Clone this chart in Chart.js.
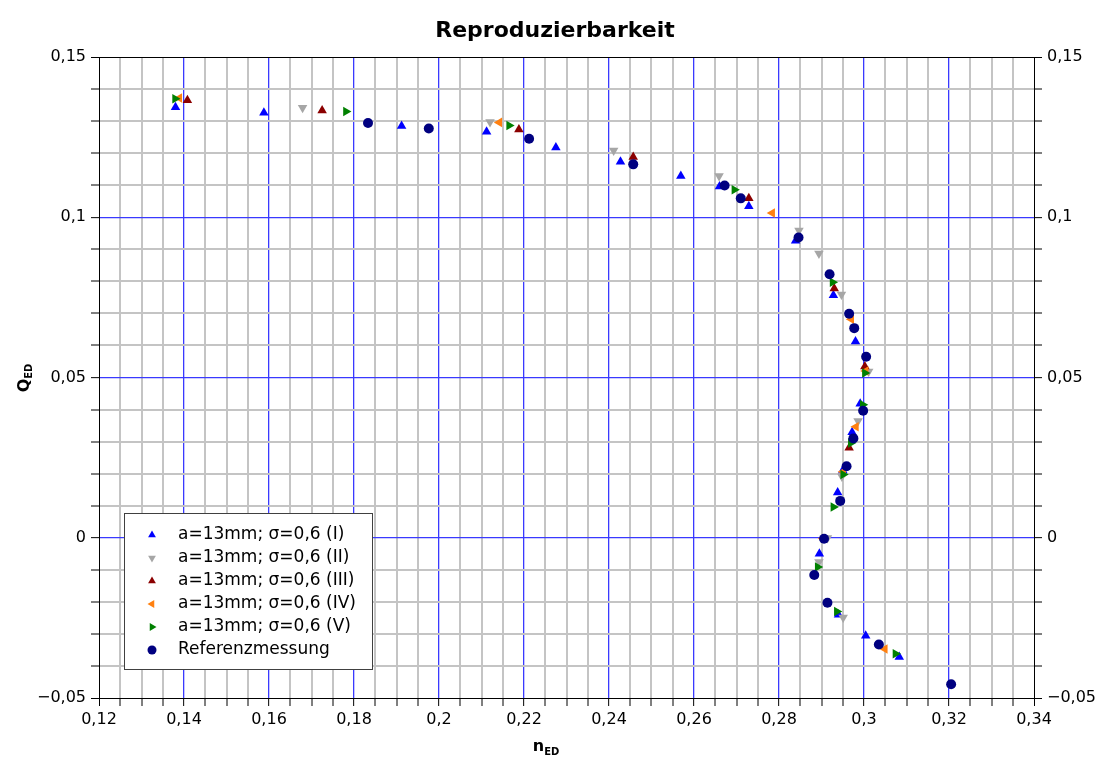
<!DOCTYPE html>
<html>
<head>
<meta charset="utf-8">
<title>Reproduzierbarkeit</title>
<script src="https://cdn.jsdelivr.net/npm/chart.js@4.4.0/dist/chart.umd.min.js"></script>
<style>
  html, body { margin: 0; padding: 0; background: #fff; }
</style>
</head>
<body>
<canvas id="chart" width="1102" height="760"></canvas>
<script>
// values (n_ED, Q_ED)
const nedI   = [0.1380, 0.1588, 0.1912, 0.2112, 0.2275, 0.2427, 0.2569, 0.2660, 0.2729, 0.2839, 0.2928, 0.2980, 0.2991, 0.2972, 0.2950, 0.2938, 0.2895, 0.2940, 0.3004, 0.3083];
const qedI   = [0.1343, 0.1326, 0.1285, 0.1267, 0.1218, 0.1173, 0.1129, 0.1096, 0.1034, 0.0927, 0.0757, 0.0612, 0.0418, 0.0329, 0.0210, 0.0141, -0.0050, -0.0240, -0.0306, -0.0372];

const nedII  = [0.1679, 0.2120, 0.2411, 0.2659, 0.2847, 0.2894, 0.2947, 0.3011, 0.2986, 0.2948, 0.2914, 0.2894, 0.2951];
const qedII  = [0.1342, 0.1297, 0.1208, 0.1129, 0.0959, 0.0887, 0.0759, 0.0519, 0.0364, 0.0191, -0.0001, -0.0076, -0.0249];

const nedIII = [0.1408, 0.1725, 0.2188, 0.2457, 0.2729, 0.2930, 0.3002, 0.2965];
const qedIII = [0.1365, 0.1333, 0.1274, 0.1188, 0.1059, 0.0778, 0.0534, 0.0281];

const nedIV  = [0.1389, 0.2142, 0.2784, 0.2970, 0.3004, 0.2981, 0.2951, 0.2904, 0.3049];
const qedIV  = [0.1372, 0.1296, 0.1013, 0.0682, 0.0520, 0.0346, 0.0206, -0.0002, -0.0347];

const nedV   = [0.1379, 0.1781, 0.2165, 0.2695, 0.2926, 0.3002, 0.2997, 0.2969, 0.2951, 0.2928, 0.2891, 0.2936, 0.3074];
const qedV   = [0.1370, 0.1330, 0.1286, 0.1086, 0.0797, 0.0514, 0.0415, 0.0296, 0.0197, 0.0096, -0.0091, -0.0230, -0.0362];

const nedRef = [0.1833, 0.1976, 0.2212, 0.2457, 0.2672, 0.2710, 0.2846, 0.2919, 0.2965, 0.2977, 0.3005, 0.2998, 0.2975, 0.2959, 0.2944, 0.2906, 0.2883, 0.2914, 0.3035, 0.3205];
const qedRef = [0.1294, 0.1277, 0.1245, 0.1165, 0.1099, 0.1059, 0.0937, 0.0822, 0.0699, 0.0654, 0.0565, 0.0396, 0.0310, 0.0223, 0.0115, -0.0003, -0.0116, -0.0203, -0.0333, -0.0457];

const seriesLabels = ['a=13mm; σ=0,6 (I)', 'a=13mm; σ=0,6 (II)', 'a=13mm; σ=0,6 (III)', 'a=13mm; σ=0,6 (IV)', 'a=13mm; σ=0,6 (V)', 'Referenzmessung'];

// axis ranges / tick steps
const xRange = [0.12, 0.34];
const yRange = [-0.05, 0.15];
const xMajor = 0.02, xMinor = 0.005;
const yMajor = 0.05, yMinor = 0.01;

const FONT = "'DejaVu Sans', Verdana, sans-serif";

const pts = (xs, ys) => xs.map((x, i) => ({ x: x, y: ys[i] }));
const isMult = (v, s) => Math.abs(v / s - Math.round(v / s)) < 1e-6;
const fmt = v => {
    const r = Math.round(v * 1000) / 1000;
    return (r < 0 ? '\u2212' : '') + String(Math.abs(r)).replace('.', ',');
};

const styles = [
    { color: '#0000ff', shape: 'triangle', rot: 0 },
    { color: '#a6a6a6', shape: 'triangle', rot: 180 },
    { color: '#8b0000', shape: 'triangle', rot: 0 },
    { color: '#ff8010', shape: 'triangle', rot: 270 },
    { color: '#008000', shape: 'triangle', rot: 90 },
    { color: '#000080', shape: 'circle', rot: 0 }
];
const allData = [pts(nedI, qedI), pts(nedII, qedII), pts(nedIII, qedIII), pts(nedIV, qedIV), pts(nedV, qedV), pts(nedRef, qedRef)];

const datasets = allData.map((d, i) => ({
    label: seriesLabels[i],
    data: d,
    showLine: false,
    pointStyle: styles[i].shape,
    rotation: styles[i].rot,
    pointRadius: styles[i].shape === 'circle' ? 5 : 5.5,
    pointBorderWidth: 0,
    backgroundColor: styles[i].color,
    borderColor: styles[i].color,
    order: 6 - i
}));

const atEdge = (v, range) => Math.abs(v - range[0]) < 1e-9 || Math.abs(v - range[1]) < 1e-9;
const gridColor = (c, step, range) => {
    if (!c.tick) return '#c4c4c4';
    if (atEdge(c.tick.value, range)) return '#000';
    return isMult(c.tick.value, step) ? '#3a3aff' : '#c4c4c4';
};
const gridWidth = (c, step, range) => {
    if (!c.tick) return 2;
    if (atEdge(c.tick.value, range)) return 1;
    return isMult(c.tick.value, step) ? 1.3 : 2;
};

function drawMarker(ctx, shape, rot, r, x, y) {
    ctx.beginPath();
    if (shape === 'circle') {
        ctx.arc(x, y, r, 0, Math.PI * 2);
    } else {
        const a0 = (rot - 90) * Math.PI / 180;
        for (let k = 0; k < 3; k++) {
            const a = a0 + k * 2 * Math.PI / 3;
            const px = x + r * Math.cos(a), py = y + r * Math.sin(a);
            k === 0 ? ctx.moveTo(px, py) : ctx.lineTo(px, py);
        }
        ctx.closePath();
    }
    ctx.fill();
}

const decorations = {
    id: 'decorations',
    afterDatasetsDraw(chart) {
        const { ctx } = chart;
        ctx.save();
        // legend box
        ctx.fillStyle = '#fff';
        ctx.fillRect(124, 513, 248, 156);
        ctx.strokeStyle = '#404040';
        ctx.lineWidth = 1;
        ctx.strokeRect(124.5, 513.5, 248, 156);
        ctx.font = '17px ' + FONT;
        ctx.textBaseline = 'middle';
        seriesLabels.forEach((lab, i) => {
            const y = 535 + i * 23;
            ctx.fillStyle = styles[i].color;
            drawMarker(ctx, styles[i].shape, styles[i].rot, 4.5, 152, y);
            ctx.fillStyle = '#000';
            ctx.fillText(lab, 178, y);
        });
        ctx.restore();
    },
    afterDraw(chart) {
        const { ctx } = chart;
        ctx.save();
        ctx.fillStyle = '#000';
        // title
        ctx.font = 'bold 22px ' + FONT;
        ctx.textAlign = 'center';
        ctx.textBaseline = 'alphabetic';
        ctx.fillText('Reproduzierbarkeit', 555, 37);
        // x axis title n_ED
        ctx.textAlign = 'left';
        ctx.font = 'bold 16px ' + FONT;
        const nW = ctx.measureText('n').width;
        ctx.font = 'bold 10px ' + FONT;
        const edW = ctx.measureText('ED').width;
        let x0 = 546 - (nW + edW) / 2;
        ctx.font = 'bold 16px ' + FONT;
        ctx.fillText('n', x0, 751);
        ctx.font = 'bold 10px ' + FONT;
        ctx.fillText('ED', x0 + nW, 755);
        // y axis title Q_ED
        ctx.translate(29, 378);
        ctx.rotate(-Math.PI / 2);
        ctx.font = 'bold 16px ' + FONT;
        const qW = ctx.measureText('Q').width;
        x0 = -(qW + edW) / 2;
        ctx.fillText('Q', x0, 0);
        ctx.font = 'bold 10px ' + FONT;
        ctx.fillText('ED', x0 + qW, 3);
        ctx.restore();
    }
};

const yAxis = (pos, width) => ({
    type: 'linear',
    position: pos,
    min: yRange[0],
    max: yRange[1],
    ticks: {
        stepSize: yMinor,
        autoSkip: false,
        color: '#000',
        font: { family: FONT, size: 16 },
        padding: 5,
        callback: v => isMult(v, yMajor) ? fmt(v) : ''
    },
    grid: {
        drawOnChartArea: pos === 'left',
        color: c => gridColor(c, yMajor, yRange),
        lineWidth: c => gridWidth(c, yMajor, yRange),
        tickColor: '#000',
        tickLength: 8,
        tickWidth: 1
    },
    border: { color: '#000', width: 1 },
    afterFit: s => { s.width = width; }
});

new Chart(document.getElementById('chart'), {
    type: 'scatter',
    data: { datasets: datasets },
    plugins: [decorations],
    options: {
        responsive: false,
        devicePixelRatio: 1,
        animation: false,
        layout: { padding: { top: 57, left: 0, right: 0, bottom: 0 } },
        plugins: {
            legend: { display: false },
            title: { display: false },
            tooltip: { enabled: false }
        },
        scales: {
            x: {
                type: 'linear',
                position: 'bottom',
                min: xRange[0],
                max: xRange[1],
                ticks: {
                    stepSize: xMinor,
                    autoSkip: false,
                    maxRotation: 0,
                    color: '#000',
                    font: { family: FONT, size: 16 },
                    padding: 4,
                    callback: v => isMult(v, xMajor) ? fmt(v) : ''
                },
                grid: {
                    color: c => gridColor(c, xMajor, xRange),
                    lineWidth: c => gridWidth(c, xMajor, xRange),
                    tickColor: '#000',
                    tickLength: 8,
                    tickWidth: 1
                },
                border: { color: '#000', width: 1 },
                afterFit: s => { s.height = 62; }
            },
            y: yAxis('left', 99),
            y2: yAxis('right', 68)
        }
    }
});
</script>
</body>
</html>
